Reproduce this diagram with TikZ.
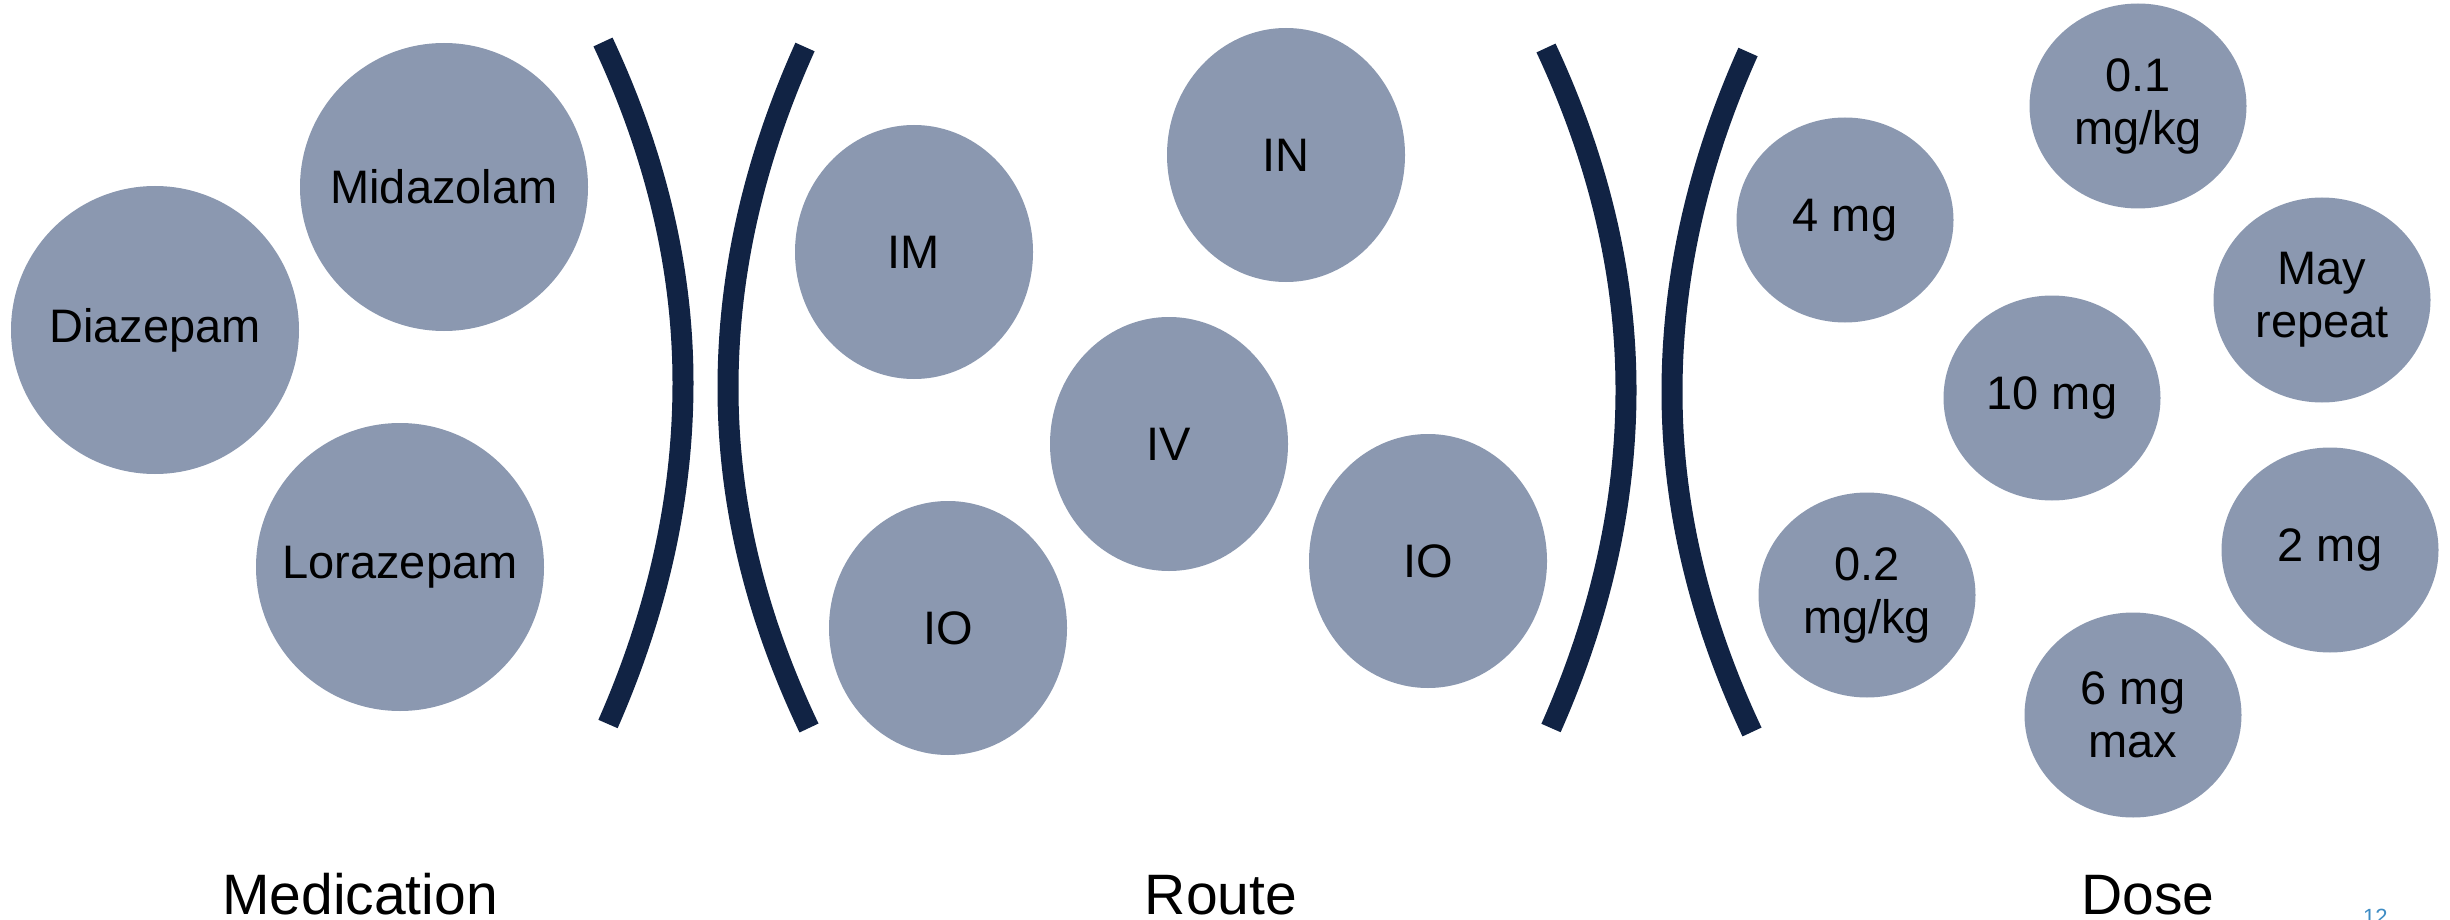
\documentclass[tikz,border=0pt]{standalone}
\usepackage{fontspec}
\setmainfont{Liberation Sans}
\usetikzlibrary{shapes.geometric}
\definecolor{bubble}{RGB}{139,152,176}
\definecolor{navy}{RGB}{17,35,68}
\definecolor{pagenum}{RGB}{62,140,196}
% zero-width centred line, so the bubble size comes only from its style
\newcommand\zw[1]{\makebox[0pt]{#1}}
\tikzset{
  bubble/.style={ellipse, fill=bubble, inner sep=0pt, align=center,
    font=\fontsize{47}{53}\selectfont},
  medbubble/.style={bubble, minimum width=288pt, minimum height=288pt},
  routebubble/.style={bubble, minimum width=238pt, minimum height=254pt},
  dosebubble/.style={bubble, minimum width=217pt, minimum height=205pt},
  bracketline/.style={draw=navy, line width=21pt},
  heading/.style={anchor=base, font=\fontsize{57}{64}\selectfont, inner sep=0pt}
}
\begin{document}
\begin{tikzpicture}[x=1pt, y=-1pt]
\useasboundingbox (0,0) rectangle (2450,920);

% Medication
\node[medbubble] (diaz) at (155,330) {\zw{Diazepam}};
\node[medbubble] (mida) at (444,187) {\zw{Midazolam}};
\node[medbubble] (lora) at (400,567) {\zw{Lorazepam}};

% Route
\node[routebubble] (im)  at (914,252)  {\zw{IM}};
\node[routebubble] (in)  at (1286,155) {\zw{IN}};
\node[routebubble] (iv)  at (1169,444) {\zw{IV}};
\node[routebubble] (ioa) at (948,628)  {\zw{IO}};
\node[routebubble] (iob) at (1428,561) {\zw{IO}};

% Dose
\node[dosebubble] (d4)   at (1845,220) {\zw{4 mg}};
\node[dosebubble] (d02)  at (1867,595) {\zw{0.2}\\\zw{mg/kg}};
\node[dosebubble] (d01)  at (2138,106) {\zw{0.1}\\\zw{mg/kg}};
\node[dosebubble] (drep) at (2322,300) {\zw{May}\\\zw{repeat}};
\node[dosebubble] (d10)  at (2052,398) {\zw{10 mg}};
\node[dosebubble] (d2)   at (2330,550) {\zw{2 mg}};
\node[dosebubble] (d6)   at (2133,715) {\zw{6 mg}\\\zw{max}};

% Separating brackets
\draw[bracketline] (603,42) .. controls (656.3,155.7) and (683,269.3) .. (683,383)
  .. controls (683,496.7) and (658,610.3) .. (608,724);
\draw[bracketline] (805,47) .. controls (753.7,160.7) and (728,274.3) .. (728,388)
  .. controls (728,501.7) and (755,614.7) .. (809,728);
\draw[bracketline] (1546,48) .. controls (1599.3,162) and (1626,276) .. (1626,390)
  .. controls (1626,502.7) and (1601,615.3) .. (1551,728);
\draw[bracketline] (1748,52) .. controls (1697.3,165.3) and (1672,278.7) .. (1672,392)
  .. controls (1672,505.3) and (1698.7,618.7) .. (1752,732);

% Column headings
\node[heading] (hmed)   at (360,914)  {Medication};
\node[heading] (hroute) at (1221,914) {Route};
\node[heading] (hdose)  at (2148,914) {Dose};

% Slide number
\node[anchor=north west, inner sep=0pt, text=pagenum,
  font=\fontsize{22}{24}\selectfont] (pnum) at (2363,909) {12};
\end{tikzpicture}
\end{document}
